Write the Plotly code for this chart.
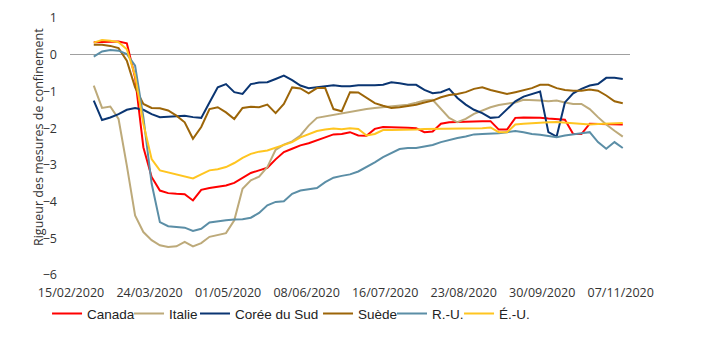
import pandas as pd
import plotly.graph_objects as go

# Dates of the sampled points (every 4 days)
dates = pd.date_range("2020-02-26", periods=65, freq="4D")

canada = [0.34, 0.35, 0.36, 0.36, 0.31, -0.62, -2.52, -3.33, -3.70, -3.77, -3.79, -3.80, -3.97, -3.68, -3.63, -3.60, -3.56, -3.49, -3.35, -3.22,
          -3.15, -3.08, -2.85, -2.65, -2.56, -2.47, -2.41, -2.34, -2.25, -2.17, -2.16, -2.11, -2.20, -2.21, -2.02, -1.97, -1.97, -1.99, -1.99, -2.00, -2.11, -2.09,
          -1.88, -1.84, -1.83, -1.82, -1.82, -1.81, -1.81, -2.04, -2.04, -1.72, -1.71, -1.71, -1.72, -1.74, -1.75, -1.77, -2.16, -2.16, -1.88, -1.88, -1.88, -1.90, -1.90]
italie = [-0.84, -1.45, -1.41, -1.75, -3.02, -4.38, -4.83, -5.05, -5.19, -5.24, -5.22, -5.10, -5.22, -5.13, -4.96, -4.92, -4.86, -4.51, -3.65, -3.42,
          -3.32, -3.06, -2.59, -2.45, -2.36, -2.20, -1.93, -1.72, -1.68, -1.64, -1.59, -1.55, -1.50, -1.48, -1.45, -1.43, -1.41, -1.40, -1.36, -1.31, -1.25, -1.23,
          -1.48, -1.72, -1.84, -1.75, -1.61, -1.52, -1.43, -1.37, -1.34, -1.30, -1.23, -1.23, -1.25, -1.27, -1.25, -1.30, -1.34, -1.34, -1.48, -1.70, -1.90, -2.07, -2.23]
coree = [-1.25, -1.78, -1.71, -1.62, -1.50, -1.45, -1.50, -1.62, -1.70, -1.69, -1.68, -1.66, -1.70, -1.72, -1.30, -0.89, -0.80, -1.02, -1.07, -0.80,
         -0.76, -0.75, -0.66, -0.57, -0.69, -0.84, -0.91, -0.89, -0.85, -0.83, -0.86, -0.86, -0.83, -0.84, -0.83, -0.82, -0.75, -0.78, -0.82, -0.82, -0.96, -1.05,
         -1.02, -0.93, -1.18, -1.36, -1.50, -1.59, -1.72, -1.70, -1.48, -1.27, -1.14, -1.07, -1.00, -2.11, -2.23, -1.30, -1.05, -0.93, -0.84, -0.80, -0.63, -0.63, -0.66]
suede = [0.27, 0.27, 0.24, 0.18, -0.16, -0.89, -1.34, -1.45, -1.46, -1.52, -1.66, -1.84, -2.29, -1.97, -1.48, -1.43, -1.57, -1.75, -1.45, -1.42,
         -1.43, -1.36, -1.59, -1.34, -0.89, -0.92, -1.05, -0.91, -0.91, -1.48, -1.54, -1.02, -1.03, -1.18, -1.32, -1.39, -1.45, -1.43, -1.40, -1.36, -1.30, -1.25,
         -1.16, -1.10, -1.07, -1.02, -0.93, -0.89, -0.96, -1.02, -1.07, -1.02, -0.96, -0.91, -0.82, -0.82, -0.91, -0.96, -0.98, -0.98, -0.95, -0.98, -1.11, -1.27, -1.32]
ru = [-0.05, 0.09, 0.13, 0.11, 0.02, -0.30, -1.70, -3.51, -4.56, -4.67, -4.69, -4.71, -4.80, -4.74, -4.57, -4.53, -4.51, -4.49, -4.48, -4.44,
      -4.31, -4.10, -4.01, -3.99, -3.79, -3.70, -3.67, -3.63, -3.47, -3.35, -3.30, -3.26, -3.18, -3.06, -2.93, -2.79, -2.68, -2.57, -2.54, -2.54, -2.50, -2.46,
      -2.38, -2.32, -2.27, -2.23, -2.17, -2.16, -2.16, -2.14, -2.11, -2.08, -2.11, -2.16, -2.18, -2.22, -2.25, -2.20, -2.16, -2.14, -2.11, -2.38, -2.56, -2.38, -2.54]
eu = [0.33, 0.40, 0.38, 0.34, 0.15, -0.57, -1.88, -2.84, -3.15, -3.21, -3.25, -3.31, -3.37, -3.26, -3.15, -3.12, -3.06, -2.95, -2.81, -2.70,
      -2.64, -2.61, -2.54, -2.47, -2.38, -2.25, -2.16, -2.08, -2.04, -2.01, -2.03, -2.00, -2.02, -2.20, -2.16, -2.05, -2.05, -2.05, -2.05, -2.04, -2.02, -2.02,
      -2.02, -2.02, -2.02, -2.02, -2.01, -2.00, -1.98, -2.11, -2.11, -1.90, -1.88, -1.86, -1.85, -1.84, -1.83, -1.85, -1.88, -1.90, -1.90, -1.89, -1.88, -1.86, -1.86]

series_names = ["Canada", "Italie", "Corée du Sud", "Suède", "R.-U.", "É.-U."]
series_values = [canada, italie, coree, suede, ru, eu]
colors = ["#FF0000", "#BDAA7A", "#0A3572", "#9C6508", "#5B8EA6", "#FFC520"]

tick_dates = pd.date_range("2020-02-15", periods=8, freq="38D")
tick_labels = [d.strftime("%d/%m/%Y") for d in tick_dates]

# one legend per entry so the entries sit as tightly as in the reference
legend_x = [-0.041, 0.1054, 0.2232, 0.4429, 0.5750, 0.6947]

fig = go.Figure()
layout_legends = {}
for i, (name, vals, col) in enumerate(zip(series_names, series_values, colors)):
    key = "legend" if i == 0 else f"legend{i + 1}"
    fig.add_trace(go.Scatter(x=dates, y=vals, mode="lines", name=name,
                             line=dict(color=col, width=2), legend=key))
    layout_legends[key] = dict(orientation="h", x=legend_x[i], xanchor="left",
                               y=-0.09, yanchor="top",
                               font=dict(family="Liberation Sans", size=13.5, color="#222222"),
                               itemwidth=30, bgcolor="rgba(0,0,0,0)")

fig.update_layout(
    width=697, height=340,
    margin=dict(l=62, r=75, t=10, b=73, autoexpand=False),
    paper_bgcolor="white", plot_bgcolor="white",
    font=dict(family="Open Sans", size=12.5, color="#333333"),
    showlegend=True,
    xaxis=dict(range=["2020-02-14 12:00", "2020-11-11 12:00"],
               tickvals=list(tick_dates), ticktext=tick_labels,
               showgrid=False, showline=False, zeroline=False, ticks="",
               ticklabelstandoff=8, tickangle=0),
    yaxis=dict(range=[-6, 1], dtick=1, tick0=0, showgrid=False, showline=False,
               zeroline=True, zerolinecolor="#A0A0A0", zerolinewidth=1,
               ticks="", ticklabelstandoff=12),
    annotations=[dict(text="Rigueur des mesures de confinement", textangle=-90,
                      xref="paper", yref="paper", x=(30 - 62) / 560, y=(267 - 129) / 257,
                      xanchor="center", yanchor="middle", showarrow=False,
                      font=dict(family="Open Sans", size=12.5, color="#333333"))],
    **layout_legends,
)

fig.write_html("out.html")
